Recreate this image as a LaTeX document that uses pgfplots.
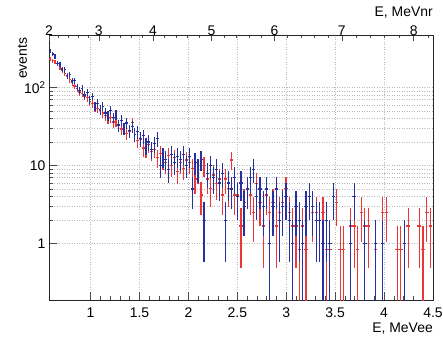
\documentclass[border=0pt]{standalone}
\usepackage{fontspec}
\setmainfont{Liberation Sans}
\usepackage{pgfplots}
\usepackage{pgfplotstable}
\pgfplotsset{compat=1.18}
\definecolor{rblue}{RGB}{40,48,160}
\definecolor{rred}{RGB}{235,55,55}

\pgfplotstableread{
x xe y
0.588 0.012 290
0.613 0.012 268
0.637 0.012 250
0.662 0.012 205
0.687 0.012 198
0.711 0.012 172
0.736 0.012 168
0.762 0.012 141
0.787 0.012 145
0.812 0.012 121
0.837 0.013 123
0.863 0.013 102
0.889 0.013 92
0.914 0.013 97
0.940 0.013 80
0.966 0.013 86
0.992 0.013 70
1.019 0.013 77
1.045 0.013 58
1.071 0.013 63
1.098 0.013 52
1.125 0.013 57
1.151 0.013 47
1.178 0.013 44
1.205 0.013 51
1.232 0.013 41
1.260 0.013 45
1.287 0.014 33
1.314 0.014 38
1.342 0.014 30
1.370 0.014 35
1.398 0.014 28
1.425 0.014 32
1.453 0.014 25
1.482 0.014 27
1.510 0.014 22
1.538 0.014 24
1.567 0.014 18
1.595 0.014 20
1.624 0.014 16
1.653 0.014 19
1.682 0.014 22
1.711 0.014 10
1.740 0.014 13
1.769 0.014 12
1.799 0.015 9
1.828 0.015 14
1.858 0.015 11
1.887 0.015 13
1.917 0.015 12
1.947 0.015 14
1.977 0.015 10
2.007 0.015 13
2.038 0.015 5
2.068 0.015 11
2.098 0.015 9
2.129 0.015 12
2.160 0.015 2
2.191 0.015 8
2.222 0.015 10
2.253 0.015 7
2.284 0.015 9
2.315 0.015 6
2.346 0.016 8
2.378 0.016 2
2.410 0.016 6
2.441 0.016 5
2.473 0.016 7
2.505 0.016 4
2.537 0.016 6
2.569 0.016 3
2.602 0.016 5
2.634 0.016 7
2.667 0.016 9
2.699 0.016 4
2.732 0.016 5
2.765 0.016 3
2.798 0.016 5
2.831 0.016 1
2.864 0.016 3
2.897 0.016 5
2.931 0.017 2
2.964 0.017 3
2.998 0.017 4
3.032 0.017 2
3.066 0.017 1
3.100 0.017 3
3.134 0.017 2
3.168 0.017 1
3.202 0.017 3
3.237 0.017 4
3.271 0.017 3
3.306 0.017 2
3.341 0.017 2
3.375 0.017 1
3.410 0.017 2
3.446 0.017 1
3.481 0.017 4
3.659 0.018 1
3.694 0.018 4
3.803 0.018 1
3.912 0.018 1
3.986 0.018 1
4.209 0.019 1
}\bluedata

\pgfplotstableread{
x xe y
0.588 0.012 231.0
0.613 0.012 220.1
0.637 0.012 211.7
0.662 0.012 201.6
0.687 0.012 180.6
0.711 0.012 164.6
0.736 0.012 149.5
0.762 0.012 138.6
0.787 0.012 126.0
0.812 0.012 115.9
0.837 0.013 104.2
0.863 0.013 96.6
0.889 0.013 87.4
0.914 0.013 84.0
0.940 0.013 76.4
0.966 0.013 73.9
0.992 0.013 65.5
1.019 0.013 62.2
1.045 0.013 55.4
1.071 0.013 53.8
1.098 0.013 50.4
1.125 0.013 47.0
1.151 0.013 43.7
1.178 0.013 39.5
1.205 0.013 41.2
1.232 0.013 36.1
1.260 0.013 37.0
1.287 0.014 33.6
1.314 0.014 29.4
1.342 0.014 30.2
1.370 0.014 26.0
1.398 0.014 27.7
1.425 0.014 35.3
1.453 0.014 25.2
1.482 0.014 21.0
1.510 0.014 21.8
1.538 0.014 16.8
1.567 0.014 16.0
1.595 0.014 18.5
1.624 0.014 15.1
1.653 0.014 16.0
1.682 0.014 12.6
1.711 0.014 14.3
1.740 0.014 11.8
1.769 0.014 10.9
1.799 0.015 13.4
1.828 0.015 10.1
1.858 0.015 12.6
1.887 0.015 8.40
1.917 0.015 10.9
1.947 0.015 9.24
1.977 0.015 11.8
2.007 0.015 10.9
2.038 0.015 9.24
2.068 0.015 6.72
2.098 0.015 8.40
2.129 0.015 4.20
2.160 0.015 10.1
2.191 0.015 6.72
2.222 0.015 5.04
2.253 0.015 7.56
2.284 0.015 5.88
2.315 0.015 6.72
2.346 0.016 4.20
2.378 0.016 6.72
2.410 0.016 5.04
2.441 0.016 11.8
2.473 0.016 4.20
2.505 0.016 4.20
2.537 0.016 1.68
2.569 0.016 3.36
2.602 0.016 5.04
2.634 0.016 4.20
2.667 0.016 2.52
2.699 0.016 5.88
2.732 0.016 3.36
2.765 0.016 1.68
2.798 0.016 4.20
2.831 0.016 2.52
2.864 0.016 3.36
2.897 0.016 1.68
2.931 0.017 2.52
2.964 0.017 3.36
2.998 0.017 5.04
3.032 0.017 2.52
3.066 0.017 1.68
3.100 0.017 1.68
3.134 0.017 0.84
3.168 0.017 1.68
3.202 0.017 0.84
3.271 0.017 2.52
3.306 0.017 2.52
3.375 0.017 2.52
3.410 0.017 0.84
3.446 0.017 0.84
3.516 0.017 3.36
3.552 0.018 0.84
3.587 0.018 0.84
3.659 0.018 1.68
3.694 0.018 1.68
3.730 0.018 0.84
3.767 0.018 2.52
3.803 0.018 1.68
3.839 0.018 1.68
3.912 0.018 0.84
3.986 0.018 2.52
4.023 0.018 2.52
4.134 0.018 0.84
4.171 0.018 0.84
4.246 0.019 1.68
4.360 0.019 1.68
4.398 0.019 0.84
4.436 0.019 2.52
4.474 0.019 1.68
}\reddata

\begin{document}
\begin{tikzpicture}
\path[use as bounding box] (-49bp,-41bp) rectangle (394bp,300bp);
\begin{axis}[
  at={(0,0)}, anchor=south west, scale only axis,
  width=384bp, height=265bp,
  xmin=0.575, xmax=4.5, ymode=log, ymin=0.19, ymax=470,
  xtick={1,1.5,2,2.5,3,3.5,4,4.5},
  xticklabels={1,1.5,2,2.5,3,3.5,4,4.5},
  minor x tick num=4,
  ytick={1,10,100}, yticklabels={1,10,10\textsuperscript{2}},
  xtick pos=bottom, ytick pos=left,
  tick align=inside,
  major tick length=8bp, minor tick length=4bp,
  xmajorgrids, ymajorgrids, yminorgrids,
  grid style={gray!55, dash pattern=on 1bp off 1.5bp, line width=0.5bp},
  axis line style={black!85, line width=0.6bp},
  tick style={black!70, line width=0.5bp},
  tick label style={font=\fontsize{14}{16}\selectfont},
  xticklabel style={anchor=base, yshift=-17bp, inner sep=0pt},
  label style={font=\fontsize{14}{16}\selectfont},
  xlabel={E, MeVee},
  xlabel style={at={(axis description cs:1,0)}, anchor=base east, yshift=-32bp, inner sep=0pt},
  ylabel={events},
  ylabel style={at={(axis description cs:-0.057,0.99)}, anchor=south east, inner sep=0pt},
  clip=true,
]
\addplot[draw=none, mark=none, forget plot,
  error bars/.cd, x dir=both, x explicit, y dir=both, y explicit,
  error mark=none, error bar style={draw=rred, line width=1.2bp, solid}]
  table[x=x, y=y, x error=xe,
        y error plus expr={sqrt(0.84*\thisrow{y})},
        y error minus expr={min(sqrt(0.84*\thisrow{y}),0.99*\thisrow{y})}] {\reddata};
\addplot[draw=none, mark=none, forget plot,
  error bars/.cd, x dir=both, x explicit, y dir=both, y explicit,
  error mark=none, error bar style={draw=rblue, line width=1.2bp, solid}]
  table[x=x, y=y, x error=xe,
        y error plus expr={sqrt(\thisrow{y})},
        y error minus expr={min(sqrt(\thisrow{y}),0.99*\thisrow{y})}] {\bluedata};
\end{axis}
\begin{axis}[
  at={(0,0)}, anchor=south west, scale only axis,
  width=384bp, height=265bp,
  xmin=0.575, xmax=4.5, ymin=0, ymax=1,
  axis x line*=top, axis y line=none,
  xtick={0.576,1.0845,1.638,2.2365,2.88,3.5685,4.302},
  xticklabels={2,3,4,5,6,7,8},
  minor xtick={0.6741,0.774,0.8757,0.9792,1.1916,1.3005,1.4112,1.5237,1.7541,1.872,1.9917,2.1132,2.3616,2.4885,2.6172,2.7477,3.0141,3.15,3.2877,3.4272,3.7116,3.8565,4.0032,4.1517,4.4541},
  tick align=inside,
  major tick length=6bp, minor tick length=3bp,
  axis line style={black!85, line width=0.6bp},
  tick style={black!70, line width=0.5bp},
  tick label style={font=\fontsize{14}{16}\selectfont},
  xticklabel style={anchor=base, yshift=-1bp, inner sep=0pt},
  label style={font=\fontsize{14}{16}\selectfont},
  xlabel={E, MeVnr},
  xlabel style={at={(axis description cs:1,1)}, anchor=base east, yshift=18bp, inner sep=0pt},
]
\end{axis}
\end{tikzpicture}
\end{document}
